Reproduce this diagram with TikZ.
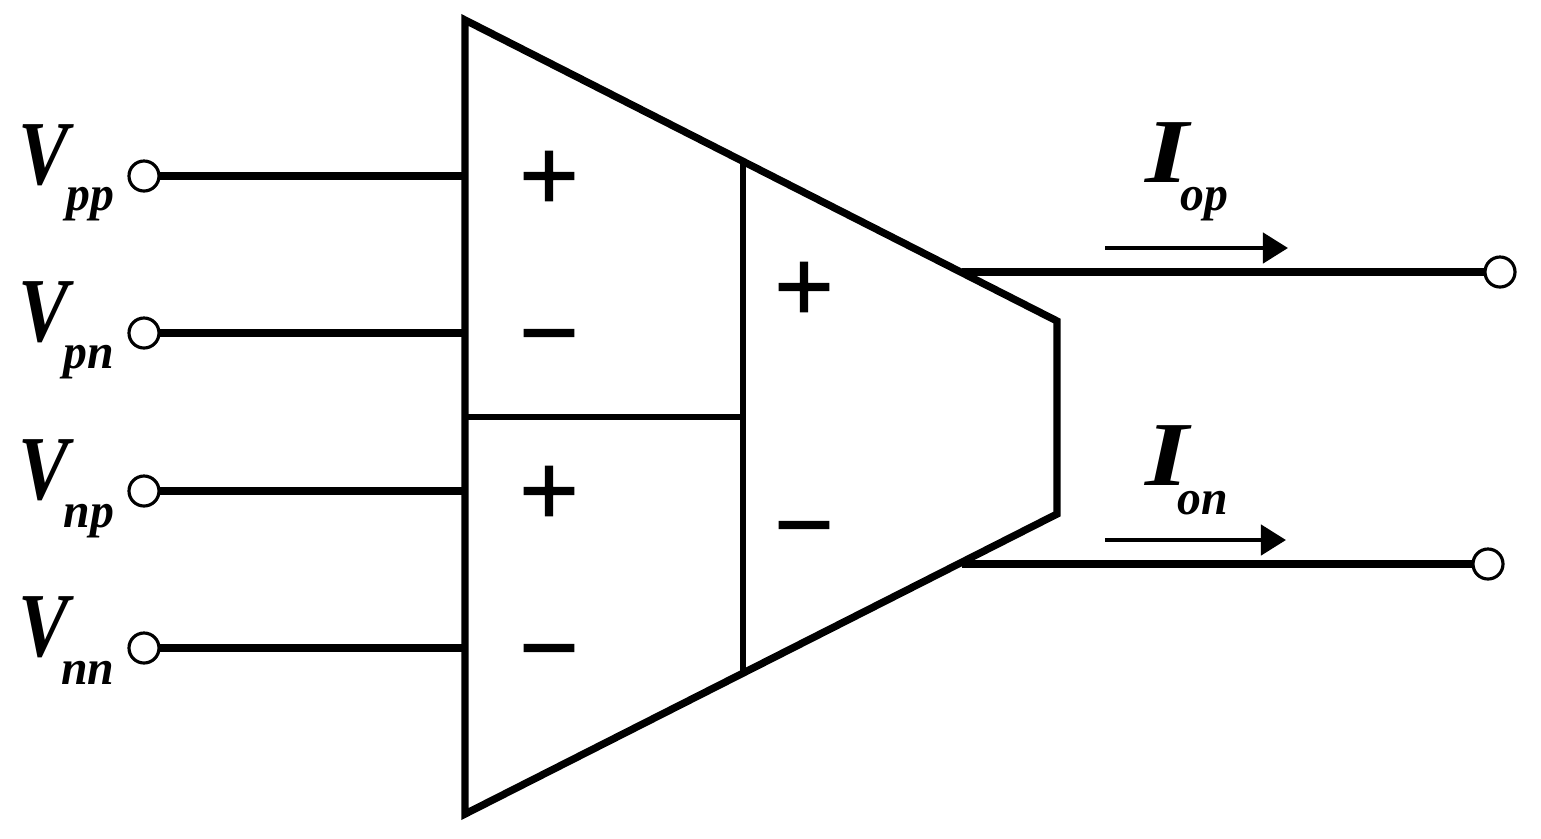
\documentclass[tikz,border=0pt]{standalone}
\usepackage{fontspec}
\setmainfont{Liberation Serif}
\newfontfamily\signfont[FakeBold=1]{Liberation Sans}
\usetikzlibrary{positioning,arrows.meta}
\tikzset{
  pin/.style={circle,draw,line width=0.9,minimum size=0.3cm,inner sep=0,outer sep=0,fill=white},
  wire/.style={line width=2.1},
  thin wire/.style={line width=1.7},
  sign/.style={font=\signfont\fontsize{29}{29}\selectfont,inner sep=0,text height=17pt,text depth=0pt},
  vlabel/.style={font=\bfseries\itshape\fontsize{26}{26}\selectfont,inner sep=0,anchor=base west,xscale=0.83},
  ilabel/.style={font=\bfseries\itshape\fontsize{26}{26}\selectfont,inner sep=0,anchor=base west,xscale=1.22},
  sublabel/.style={font=\bfseries\itshape\fontsize{14}{14}\selectfont,inner sep=0,anchor=base east,xscale=0.97},
  flow/.style={line width=1.25,-{Triangle[length=0.25cm,width=0.3cm]}}
}
\begin{document}
\begin{tikzpicture}[x=0.01cm,y=-0.01cm]
\useasboundingbox (0,0) rectangle (1541,838);
% amplifier outline
\coordinate (tl) at (465,20);
\coordinate (tr) at (1057,321);
\coordinate (br) at (1057,514);
\coordinate (bl) at (465,814);
\coordinate (mt) at (743,160);
\coordinate (mb) at (743,674);
\coordinate (ml) at (465,417);
\coordinate (mm) at (743,417);
\draw[wire,line join=miter] (tl) -- (tr) -- (br) -- (bl) -- cycle;
\draw[thin wire] (mt) -- (mb);
\draw[thin wire] (ml) -- (mm);
% inputs
\node[pin] (vpp) at (144,176) {};
\node[pin] (vpn) at (144,333) {};
\node[pin] (vnp) at (144,491) {};
\node[pin] (vnn) at (144,648) {};
\coordinate (ipp) at (465,176);
\coordinate (ipn) at (465,333);
\coordinate (inp) at (465,491);
\coordinate (inn) at (465,648);
\draw[wire] (vpp) -- (ipp);
\draw[wire] (vpn) -- (ipn);
\draw[wire] (vnp) -- (inp);
\draw[wire] (vnn) -- (inn);
% outputs
\node[pin] (iop) at (1500,272) {};
\node[pin] (ion) at (1488,564) {};
\coordinate (oop) at (962,272);
\coordinate (oon) at (962,564);
\draw[wire] (oop) -- (iop);
\draw[wire] (oon) -- (ion);
% current arrows
\coordinate (aop) at (1105,248);
\coordinate (bop) at (1288,248);
\coordinate (aon) at (1105,540);
\coordinate (bon) at (1286,540);
\draw[flow] (aop) -- (bop);
\draw[flow] (aon) -- (bon);
% signs
\node[sign] (s1) at (549,180) {+};
\node[sign] (s2) at (549,337) {−};
\node[sign] (s3) at (549,495) {+};
\node[sign] (s4) at (549,652) {−};
\node[sign] (s5) at (804,291) {+};
\node[sign] (s6) at (804,529) {−};
% labels
\node[vlabel] (lv1) at (18,184) {V};
\node[sublabel] (lv1s) at (115,210) {pp};
\node[vlabel] (lv2) at (18,341) {V};
\node[sublabel] (lv2s) at (115,368) {pn};
\node[vlabel] (lv3) at (18,499) {V};
\node[sublabel] (lv3s) at (115,527) {np};
\node[vlabel] (lv4) at (18,656) {V};
\node[sublabel] (lv4s) at (115,684) {nn};
\node[ilabel] (li1) at (1145,182) {I};
\node[sublabel] (li1s) at (1229,210) {op};
\node[ilabel] (li2) at (1145,485) {I};
\node[sublabel] (li2s) at (1229,514) {on};
\end{tikzpicture}
\end{document}
